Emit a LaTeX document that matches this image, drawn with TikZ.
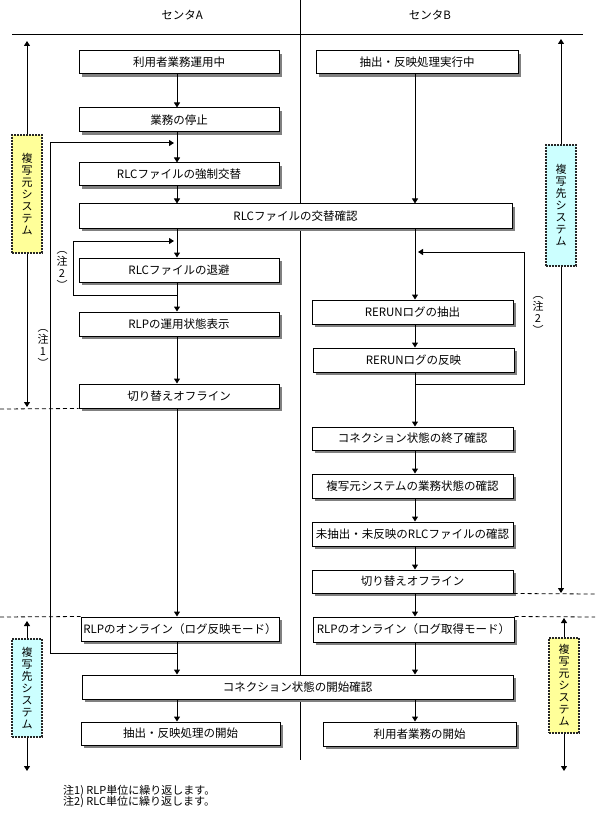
\documentclass[tikz,border=0pt]{standalone}
\usepackage{fontspec}
\setmainfont{Noto Sans CJK JP}
\usetikzlibrary{arrows.meta,shadows,calc}
\definecolor{ylw}{RGB}{255,255,153}
\definecolor{cyn}{RGB}{204,255,255}
\begin{document}
\begin{tikzpicture}[x=1pt,y=-1pt,
  box/.style={draw,line width=1pt,fill=white,inner sep=0pt,
    font=\fontsize{11.5}{12}\selectfont,
    drop shadow={shadow xshift=3pt,shadow yshift=-3pt,fill=black!50,opacity=1}},
  sidebox/.style={draw=black!85,line width=1.8pt,dash pattern=on 1.6pt off 1.4pt,
    inner sep=0pt,minimum width=30pt,align=center,
    font=\fontsize{11}{12}\selectfont},
  arr/.style={line width=1pt,-{Triangle[width=6pt,length=5pt]}},
  ln/.style={line width=1pt},
  dsh/.style={line width=0.8pt,dash pattern=on 4pt off 3pt},
  vlabel/.style={align=center,inner sep=0pt,font=\fontsize{11}{12}\selectfont},
  hdr/.style={font=\fontsize{11.5}{12}\selectfont},
  note/.style={anchor=west,inner sep=0pt,font=\fontsize{11}{12}\selectfont}]
\useasboundingbox (0,0) rectangle (595,818);
% header
\node[hdr] (hA) at (182,15) {センタA};
\node[hdr] (hB) at (430,15) {センタB};
\draw[ln] (12,35) -- (583,35);
\draw[ln] (300,0) -- (300,760);
% column A boxes
\node[box,minimum width=200pt,minimum height=23pt] (A1) at (179,62.5) {利用者業務運用中};
\node[box,minimum width=200pt,minimum height=24pt] (A2) at (179,120) {業務の停止};
\node[box,minimum width=200pt,minimum height=23pt] (A3) at (179,174.5) {RLCファイルの強制交替};
\node[box,minimum width=433pt,minimum height=24pt] (W1) at (295.5,216) {RLCファイルの交替確認};
\node[box,minimum width=200pt,minimum height=24pt] (A4) at (179,270) {RLCファイルの退避};
\node[box,minimum width=200pt,minimum height=24pt] (A5) at (179,324) {RLPの運用状態表示};
\node[box,minimum width=200pt,minimum height=24pt] (A6) at (179,396) {切り替えオフライン};
\node[box,minimum width=198pt,minimum height=24pt] (A7) at (180,629) {RLPのオンライン（ログ反映モード）};
\node[box,minimum width=431pt,minimum height=24pt] (W2) at (297.5,687) {コネクション状態の開始確認};
\node[box,minimum width=199pt,minimum height=23pt] (A8) at (180.5,733.5) {抽出・反映処理の開始};
% column B boxes
\node[box,minimum width=202pt,minimum height=23pt] (B1) at (417,62.5) {抽出・反映処理実行中};
\node[box,minimum width=201pt,minimum height=24pt] (B2) at (412.5,312) {RERUNログの抽出};
\node[box,minimum width=201pt,minimum height=24pt] (B3) at (413.5,360) {RERUNログの反映};
\node[box,minimum width=201pt,minimum height=23pt] (B4) at (412.5,438.5) {コネクション状態の終了確認};
\node[box,minimum width=201pt,minimum height=24pt] (B5) at (412.5,486) {複写元システムの業務状態の確認};
\node[box,minimum width=201pt,minimum height=24pt] (B6) at (412.5,534) {未抽出・未反映のRLCファイルの確認};
\node[box,minimum width=201pt,minimum height=23pt] (B7) at (412.5,581.5) {切り替えオフライン};
\node[box,minimum width=201pt,minimum height=25pt] (B8) at (413.5,629.5) {RLPのオンライン（ログ取得モード）};
\node[box,minimum width=193pt,minimum height=24pt] (B9) at (419.5,734) {利用者業務の開始};
% column A arrows (x = 177)
\coordinate (xa) at (177,0);
\coordinate (xb) at (415,0);
\draw[arr] (A1.south -| xa) -- (A2.north -| xa);
\draw[arr] (A2.south -| xa) -- (A3.north -| xa);
\draw[arr] (A3.south -| xa) -- (W1.north -| xa);
\draw[arr] (W1.south -| xa) -- (A4.north -| xa);
\draw[arr] (A4.south -| xa) -- (A5.north -| xa);
\draw[arr] (A5.south -| xa) -- (A6.north -| xa);
\draw[arr] (A6.south -| xa) -- (A7.north -| xa);
\draw[arr] (A7.south -| xa) -- (W2.north -| xa);
\draw[arr] (W2.south -| xa) -- (A8.north -| xa);
% column B arrows (x = 415)
\draw[arr] (B1.south -| xb) -- (W1.north -| xb);
\draw[arr] (W1.south -| xb) -- (B2.north -| xb);
\draw[arr] (B2.south -| xb) -- (B3.north -| xb);
\draw[arr] (B3.south -| xb) -- (B4.north -| xb);
\draw[arr] (B4.south -| xb) -- (B5.north -| xb);
\draw[arr] (B5.south -| xb) -- (B6.north -| xb);
\draw[arr] (B6.south -| xb) -- (B7.north -| xb);
\draw[arr] (B7.south -| xb) -- (B8.north -| xb);
\draw[arr] (B8.south -| xb) -- (W2.north -| xb);
\draw[arr] (W2.south -| xb) -- (B9.north -| xb);
% loop note 1
\coordinate (n1s) at (177,653);
\coordinate (n1e) at (174,143);
\draw[ln] (n1s) -- (50,653) -- (50,143);
\draw[arr] (50,143) -- (n1e);
\node[vlabel] (L1) at (43,348) {︵\\注\\1\\︶};
% loop note 2 (A)
\coordinate (n2s) at (177,295);
\coordinate (n2e) at (174,241);
\draw[ln] (n2s) -- (73,295) -- (73,241);
\draw[arr] (73,241) -- (n2e);
\node[vlabel] (L2) at (62,270) {︵\\注\\2\\︶};
% loop note 2 (B)
\coordinate (n3s) at (415,384);
\coordinate (n3e) at (418,252);
\draw[ln] (n3s) -- (524,384) -- (524,252);
\draw[arr] (524,252) -- (n3e);
\node[vlabel] (L3) at (538,315) {︵\\注\\2\\︶};
% side boxes
\node[sidebox,fill=ylw,minimum height=118pt] (LY) at (27,194) {複\\写\\元\\シ\\ス\\テ\\ム};
\coordinate (LYt) at (27,41);
\coordinate (LYb) at (27,407);
\draw[arr] (LY.north) -- (LYt);
\draw[arr] (LY.south) -- (LYb);
\node[sidebox,fill=cyn,minimum height=121pt] (RC) at (561,205.5) {複\\写\\先\\シ\\ス\\テ\\ム};
\coordinate (RCt) at (561,39);
\coordinate (RCb) at (561,593);
\draw[arr] (RC.north) -- (RCt);
\draw[arr] (RC.south) -- (RCb);
\node[sidebox,fill=cyn,minimum height=98pt] (LC) at (27,688) {複\\写\\先\\シ\\ス\\テ\\ム};
\coordinate (LCt) at (27,621);
\coordinate (LCb) at (27,771);
\draw[arr] (LC.north) -- (LCt);
\draw[arr] (LC.south) -- (LCb);
\node[sidebox,fill=ylw,minimum height=95pt] (RY) at (564,685.5) {複\\写\\元\\シ\\ス\\テ\\ム};
\coordinate (RYt) at (564,618);
\coordinate (RYb) at (564,771);
\draw[arr] (RY.north) -- (RYt);
\draw[arr] (RY.south) -- (RYb);
% dashed separators
\coordinate (d1) at (0,409);
\coordinate (d2) at (0,617);
\coordinate (d3) at (595,594);
\coordinate (d4) at (595,617);
\draw[dsh] (d1) -- (A6.south west);
\draw[dsh] (d2) -- (A7.north west);
\draw[dsh] (B7.south east) -- (d3);
\draw[dsh] (B8.north east) -- (d4);
% footnotes
\node[note] (f1) at (63,791) {注1) RLP単位に繰り返します。};
\node[note] (f2) at (63,802) {注2) RLC単位に繰り返します。};
\end{tikzpicture}
\end{document}
